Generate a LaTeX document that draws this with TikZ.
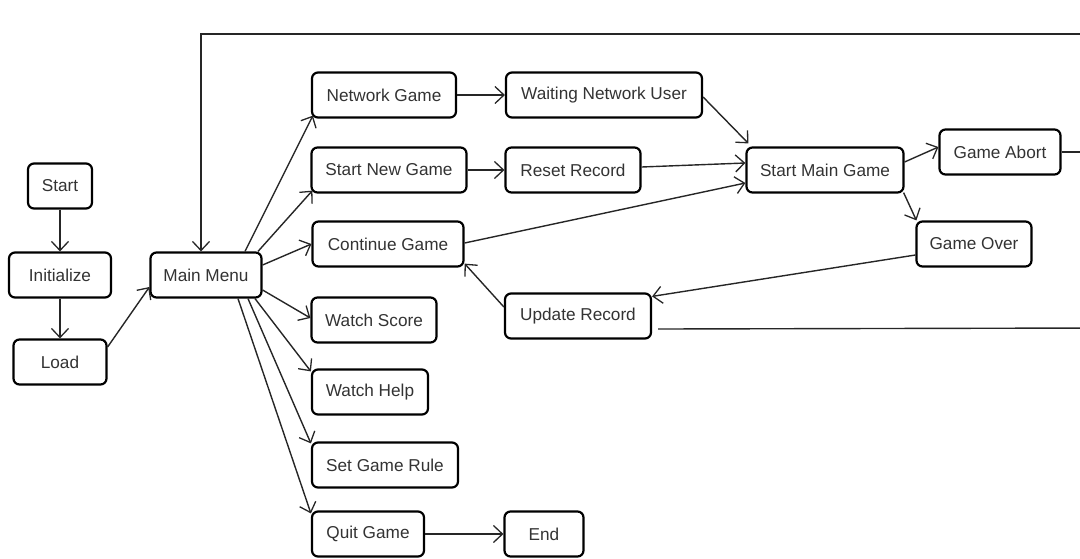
\documentclass[tikz,border=0pt]{standalone}
\usepackage{fontspec}
\setmainfont{Liberation Sans}
\usetikzlibrary{arrows.meta}
\begin{document}
\begin{tikzpicture}[x=1pt,y=-1pt,
  state/.style={draw=black, line width=2.2pt, rounded corners=6pt, fill=white,
    minimum height=45pt, inner sep=0pt, text=black!80,
    font=\fontsize{17.2}{19}\selectfont},
  flow/.style={line width=1.4pt, draw=black!85,
    -{Straight Barb[length=9pt,width=17pt,line width=1.3pt]}},
  plain/.style={line width=1.4pt, draw=black!85},
]
\useasboundingbox (0,0) rectangle (1080,558);
\clip (0,0) rectangle (1080,558);

% states
\node[state, minimum width=64pt]  (start) at (60,186)  {Start};
\node[state, minimum width=102pt] (init)  at (60,275)  {Initialize};
\node[state, minimum width=93pt]  (load)  at (60,362)  {Load};
\node[state, minimum width=111pt] (main)  at (206,275) {Main Menu};
\node[state, minimum width=144pt] (net)   at (384,95)  {Network Game};
\node[state, minimum width=196pt] (wait)  at (604,95)  {Waiting Network User};
\node[state, minimum width=155pt] (new)   at (389,170) {Start New Game};
\node[state, minimum width=135pt] (reset) at (573,170) {Reset Record};
\node[state, minimum width=151pt] (cont)  at (388,244) {Continue Game};
\node[state, minimum width=157pt] (smg)   at (825,170) {Start Main Game};
\node[state, minimum width=121pt] (abort) at (1000,152) {Game Abort};
\node[state, minimum width=115pt] (over)  at (974,244) {Game Over};
\node[state, minimum width=146pt] (upd)   at (578,316) {Update Record};
\node[state, minimum width=125pt] (score) at (374,320) {Watch Score};
\node[state, minimum width=116pt] (help)  at (370,392) {Watch Help};
\node[state, minimum width=146pt] (rule)  at (385,465) {Set Game Rule};
\node[state, minimum width=112pt] (quit)  at (368,534) {Quit Game};
\node[state, minimum width=79pt]  (end)   at (544,534) {End};

% routes leaving the right edge and returning to the main menu
\coordinate (abortR) at (1100,152);
\coordinate (updR)   at (1100,328);
\coordinate (topR)   at (1100,34);
\coordinate (topL)   at (201,34);

% start-up sequence
\draw[flow] (start) -- (init);
\draw[flow] (init) -- (load);
\draw[flow] ([yshift=15pt]load.east) -- ([yshift=-12pt]main.west);

% menu choices
\draw[flow] ([xshift=39pt]main.north) -- ([shift={(2pt,3pt)}]net.south west);
\draw[flow] ([xshift=52pt]main.north) -- ([shift={(2pt,3pt)}]new.south west);
\draw[flow] ([yshift=10pt]main.east) -- (cont.west);
\draw[flow] ([yshift=-15pt]main.east) -- ([yshift=2pt]score.west);
\draw[flow] ([xshift=49pt]main.south) -- ([yshift=-3pt]help.north west);
\draw[flow] ([xshift=42pt]main.south) -- ([yshift=-2pt]rule.north west);
\draw[flow] ([xshift=32pt]main.south) -- ([yshift=-3pt]quit.north west);
\draw[flow] (quit) -- (end);

% game flow
\draw[flow] (net) -- (wait);
\draw[flow] (new) -- (reset);
\draw[flow] ([yshift=-2pt]wait.east) -- ([shift={(3pt,3pt)}]smg.north west);
\draw[flow] ([yshift=3pt]reset.east) -- ([yshift=7pt]smg.west);
\draw[flow] ([yshift=1pt]cont.east) -- ([yshift=-13pt]smg.west);
\draw[flow] ([yshift=8pt]smg.east) -- ([yshift=5pt]abort.west);
\draw[flow] ([shift={(-1pt,1pt)}]smg.south east) -- ([xshift=1pt]over.north west);
\draw[flow] ([yshift=-11pt]over.west) -- ([yshift=-4pt]upd.north east);
\draw[flow] ([yshift=9pt]upd.west) -- ([yshift=4pt]cont.south east);

% back to the main menu
\draw[plain] (abort.east) -- (abortR) -- (topR);
\draw[plain] ([shift={(6pt,-13pt)}]upd.east) -- (updR) -- (topR);
\draw[flow] (topR) -- (topL) -- ([xshift=-5pt]main.north);
\end{tikzpicture}
\end{document}
